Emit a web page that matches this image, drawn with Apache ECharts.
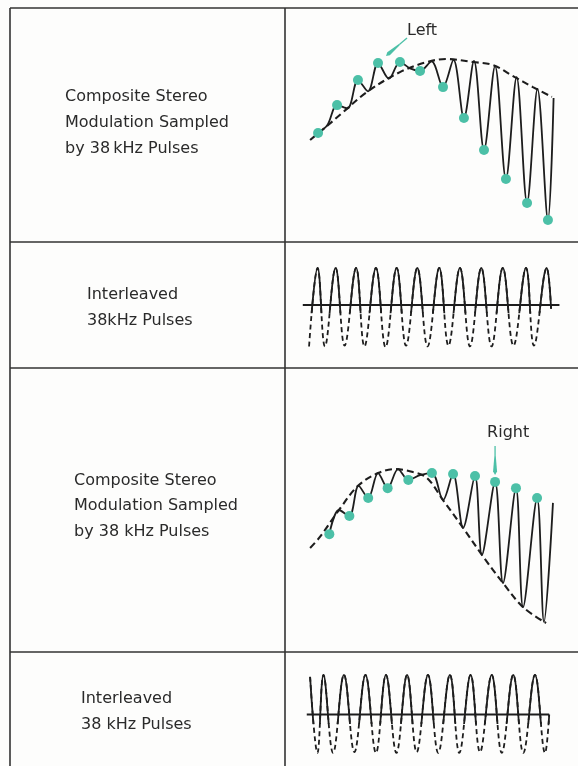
<!DOCTYPE html>
<html><head><meta charset="utf-8">
<style>html,body{margin:0;padding:0;background:#fdfdfc}#c{width:578px;height:766px}</style>
<script src="https://cdn.jsdelivr.net/npm/echarts@6.0.0/dist/echarts.min.js"></script>
</head><body><div id="c"></div>
<script>
// ---------- Panel 1: composite sampled (Left samples) ----------
const sampleK1 = [0.05, 0.96, 1.96, 2.92, 3.97, 4.93, 6.03, 7.03, 7.99, 9.04, 10.05, 11.05];
const leftSamples1 = [46.6, 58.5, 69.2, 76.5, 76.9, 73.1, 66.2, 53.0, 39.3, 26.9, 16.7, 9.4];
const turnK1 = [0.50, 1.46, 2.44, 3.44, 4.45, 5.48, 6.53, 7.51, 8.52, 9.55, 10.55, 11.32];
const turnVal1 = [50.0, 57.1, 64.4, 69.8, 74.2, 77.2, 77.8, 77.4, 75.2, 70.5, 65.4, 61.5];
const envK1 = [-0.33, 0.48, 1.2, 2.39, 3.97, 5.26, 6.22, 7.46, 8.42, 9.38, 10.33, 11.24];
const envVal1 = [43.6, 49.6, 55.1, 64.1, 72.6, 76.9, 78.2, 76.9, 75.6, 70.9, 66.2, 62.0];

// ---------- Panel 2: interleaved pulses ----------
const archK2 = [0.03, 0.89, 1.87, 2.82, 3.81, 4.80, 5.85, 6.84, 7.86, 8.89, 10.0, 10.99];
const archVal2 = [1.0, 1.0, 1.0, 1.0, 1.0, 1.0, 1.0, 1.0, 1.0, 1.0, 1.0, 1.0];
const troughK2 = [-0.38, 0.38, 1.32, 2.27, 3.28, 4.26, 5.29, 6.29, 7.32, 8.35, 9.40, 10.38, 11.2];
const troughVal2 = [-1.12, -1.12, -1.10, -1.12, -1.14, -1.10, -1.12, -1.10, -1.12, -1.12, -1.10, -1.10, -0.1];
const baseK2 = [-0.68, 11.6];

// ---------- Panel 3: composite sampled (Right samples) ----------
const sampleK3 = [0.59, 1.55, 2.45, 3.38, 4.37, 5.5, 6.51, 7.56, 8.52, 9.52, 10.53];
const rightSamples3 = [41.5, 47.9, 54.2, 57.7, 60.6, 63.0, 62.7, 62.0, 59.9, 57.7, 54.2];
const turnK3 = [1.05, 1.99, 2.92, 3.88, 4.93, 6.03, 6.99, 7.89, 8.9, 9.86, 10.86, 11.29];
const turnVal3 = [50.0, 58.5, 63.0, 64.4, 62.3, 53.5, 43.7, 34.2, 24.3, 15.8, 10.6, 52.5];
const envK3 = [-0.33, 0.14, 1.05, 1.96, 2.92, 3.73, 4.59, 5.26, 6.03, 6.99, 7.89, 8.9, 9.86, 10.96];
const envVal3 = [36.6, 40.5, 50.0, 58.5, 63.0, 64.4, 63.4, 61.3, 53.5, 43.7, 34.2, 24.3, 15.8, 10.2];

// ---------- Panel 4: interleaved pulses ----------
const archK4 = [-0.33, 0.31, 1.29, 2.32, 3.30, 4.31, 5.31, 6.36, 7.35, 8.36, 9.39, 10.43, 11.11];
const archVal4 = [0.95, 1.0, 1.0, 1.0, 1.0, 1.0, 1.0, 1.0, 1.0, 1.0, 1.0, 1.0, 0.0];
const troughK4 = [0.02, 0.77, 1.79, 2.82, 3.80, 4.77, 5.80, 6.81, 7.80, 8.84, 9.87, 10.91];
const troughVal4 = [-0.97, -0.97, -0.95, -0.97, -0.97, -0.95, -0.97, -0.97, -0.95, -0.97, -0.97, -0.97];
const baseK4 = [-0.49, 11.11];

// ---------- Text ----------
const rowTexts = [
  ['Composite Stereo', 'Modulation Sampled', 'by 38\u2009kHz Pulses'],
  ['Interleaved', '38kHz Pulses'],
  ['Composite Stereo', 'Modulation Sampled', 'by 38 kHz Pulses'],
  ['Interleaved', '38 kHz Pulses']
];
const labelLeft = 'Left';
const labelRight = 'Right';

// ---------- helpers ----------
function pairs(k, v) { return k.map((x, i) => [x, v[i]]); }
function interleave(aK, aV, bK, bV) {
  const out = [];
  const n = Math.max(aK.length, bK.length);
  for (let i = 0; i < n; i++) {
    if (i < aK.length) out.push([aK[i], aV[i]]);
    if (i < bK.length) out.push([bK[i], bV[i]]);
  }
  return out;
}

const INK = '#1d1d1d';
const TEAL = '#4cc0a7';
const GL = 296.1, GW = 271.7;

const grids = [
  {left: GL, width: GW, top: 8, height: 234},
  {left: GL, width: GW, top: 242.1, height: 125.8},
  {left: GL, width: GW, top: 242.1, height: 70.3},
  {left: GL, width: GW, top: 368, height: 284},
  {left: GL, width: GW, top: 651, height: 116},
  {left: GL, width: GW, top: 651, height: 72}
];
const yRanges = [[0, 100], [-1.7, 1.7], [-0.2, 1.7], [0, 100], [-1.3, 1.6], [-0.2, 1.6]];

const chart = echarts.init(document.getElementById('c'), null, {renderer: 'canvas'});

const wave1 = interleave(sampleK1, leftSamples1, turnK1, turnVal1);
const wave2 = interleave(troughK2, troughVal2, archK2, archVal2);
const wave3 = interleave(sampleK3, rightSamples3, turnK3, turnVal3);
const wave4 = interleave(archK4, archVal4, troughK4, troughVal4);

function lineS(g, data, opts) {
  return Object.assign({
    type: 'line', xAxisIndex: g, yAxisIndex: g, data: data, showSymbol: false,
    symbol: 'none', smooth: 0.4, silent: true,
    lineStyle: {color: INK, width: 1.8}
  }, opts);
}

const option = {
  backgroundColor: '#fdfdfc',
  animation: false,
  grid: grids.map(g => Object.assign({show: false, containLabel: false}, g)),
  xAxis: grids.map((g, i) => ({type: 'value', gridIndex: i, min: -1, max: 12, show: false})),
  yAxis: grids.map((g, i) => ({type: 'value', gridIndex: i, min: yRanges[i][0], max: yRanges[i][1], show: false})),
  series: [
    // panel 1
    lineS(0, pairs(envK1, envVal1), {smooth: 0.35, lineStyle: {color: INK, width: 2.1, type: [7, 4]}}),
    lineS(0, wave1, {smooth: 0.33}),
    {type: 'scatter', xAxisIndex: 0, yAxisIndex: 0, data: pairs(sampleK1, leftSamples1), symbolSize: 10,
     itemStyle: {color: TEAL, opacity: 1}, z: 5, silent: true},
    // panel 2
    lineS(1, wave2, {lineStyle: {color: INK, width: 1.8, type: [5, 3.5]}}),
    lineS(2, wave2, {}),
    lineS(1, pairs(baseK2, [0, 0]), {smooth: false, lineStyle: {color: INK, width: 2}}),
    // panel 3
    lineS(3, pairs(envK3, envVal3), {smooth: 0.35, lineStyle: {color: INK, width: 2.1, type: [7, 4]}}),
    lineS(3, wave3, {smooth: 0.33}),
    {type: 'scatter', xAxisIndex: 3, yAxisIndex: 3, data: pairs(sampleK3, rightSamples3), symbolSize: 10,
     itemStyle: {color: TEAL, opacity: 1}, z: 5, silent: true},
    // panel 4
    lineS(4, wave4, {lineStyle: {color: INK, width: 1.8, type: [5, 3.5]}}),
    lineS(5, wave4, {}),
    lineS(4, pairs(baseK4, [0, 0]), {smooth: false, lineStyle: {color: INK, width: 2}})
  ]
};
chart.setOption(option);

// ---------- table, texts, annotations ----------
const RULE = '#333';
function hline(y, x1, x2) {
  return {type: 'line', shape: {x1: x1, y1: y, x2: x2, y2: y}, style: {stroke: RULE, lineWidth: 1.6}, silent: true};
}
function vline(x, y1, y2) {
  return {type: 'line', shape: {x1: x, y1: y1, x2: x, y2: y2}, style: {stroke: RULE, lineWidth: 1.6}, silent: true};
}
const FONT = '16px "DejaVu Sans"';
function txt(s, x, y) {
  return {type: 'text', x: x, y: y, silent: true,
    style: {text: s, font: FONT, fill: '#2a2a2a', verticalAlign: 'middle', align: 'left'}};
}
const rowX = [65, 87, 74, 81];
const rowY = [[97, 123, 149], [295, 321], [481, 506, 532], [699, 725]];
const g = [
  hline(8, 10, 578), hline(242, 10, 578), hline(368, 10, 578), hline(652, 10, 578),
  vline(10, 8, 766), vline(285, 8, 766)
];
rowTexts.forEach((lines, r) => lines.forEach((s, j) => g.push(txt(s, rowX[r], rowY[r][j]))));

function arrow(tail, tip) {
  const dx = tip[0] - tail[0], dy = tip[1] - tail[1];
  const L = Math.hypot(dx, dy), ux = dx / L, uy = dy / L, nx = -uy, ny = ux;
  const a = [tail[0] + dx * 0.35, tail[1] + dy * 0.35];
  const b = [tail[0] + dx * 0.88, tail[1] + dy * 0.88];
  return [
    {type: 'line', shape: {x1: tail[0], y1: tail[1], x2: a[0], y2: a[1]}, style: {stroke: TEAL, lineWidth: 1.3}, silent: true},
    {type: 'polygon', silent: true, shape: {points: [
      [a[0] + nx * 0.7, a[1] + ny * 0.7], [b[0] + nx * 2, b[1] + ny * 2], tip,
      [b[0] - nx * 2, b[1] - ny * 2], [a[0] - nx * 0.7, a[1] - ny * 0.7]]},
     style: {fill: TEAL}}
  ];
}
const dL = chart.convertToPixel({gridIndex: 0}, [sampleK1[3], leftSamples1[3]]);
const dR = chart.convertToPixel({gridIndex: 3}, [sampleK3[8], rightSamples3[8]]);
g.push(...arrow([dL[0] + 29, dL[1] - 25], [dL[0] + 8, dL[1] - 7]));
g.push(txt(labelLeft, dL[0] + 29, dL[1] - 32));
g.push(...arrow([dR[0], dR[1] - 36], [dR[0], dR[1] - 7]));
g.push(txt(labelRight, dR[0] - 8, dR[1] - 49));

chart.setOption({graphic: g});
</script></body></html>
